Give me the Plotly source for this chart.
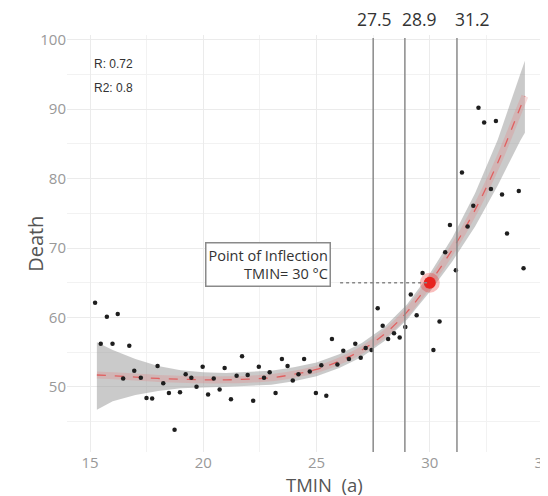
import plotly.graph_objects as go

# ---- data ----
tmin = [15.22, 15.74, 16.22, 15.47, 15.99, 16.73, 16.95, 16.46, 17.24, 17.98,
        18.23, 17.49, 17.74, 18.48, 18.97, 18.73, 19.22, 19.47, 19.70, 19.97,
        20.21, 20.46, 20.72, 20.94, 21.22, 21.47, 21.71, 21.96, 22.20, 22.45,
        22.68, 22.93, 23.19, 23.47, 23.72, 23.95, 24.20, 24.45, 24.70, 24.97,
        25.43, 25.21, 25.68, 25.92, 26.18, 26.43, 26.71, 26.95, 27.17, 27.43,
        27.70, 27.92, 28.16, 28.42, 28.67, 28.92, 29.16, 29.42, 29.68, 30.16,
        30.43, 30.68, 30.89, 31.15, 31.42, 31.67, 31.92, 32.15, 32.40, 32.70,
        32.92, 33.19, 33.41, 33.93, 34.14]
death = [62.1, 60.1, 60.5, 56.2, 56.2, 55.9, 52.3, 51.2, 51.3, 53.0,
         50.5, 48.4, 48.3, 49.1, 49.2, 43.8, 51.8, 51.3, 50.0, 52.9,
         48.9, 51.2, 49.6, 52.7, 48.2, 51.6, 54.4, 51.7, 48.0, 52.9,
         51.3, 52.1, 49.1, 54.0, 53.0, 50.9, 51.8, 54.0, 52.2, 49.1,
         48.7, 53.1, 56.9, 53.2, 55.2, 54.0, 56.2, 54.2, 55.6, 55.3,
         61.3, 58.8, 56.9, 57.7, 57.1, 58.6, 63.3, 60.3, 66.4, 55.3,
         59.4, 69.4, 73.3, 66.8, 80.9, 73.1, 76.1, 90.2, 88.1, 78.5,
         88.3, 77.7, 72.1, 78.2, 67.1]

fit_x = [15.3, 16, 17, 18, 19, 20, 21, 22, 23, 24, 25, 26, 27, 28, 29, 30,
         31, 32, 33, 34, 34.2]
fit_y = [51.7, 51.6, 51.4, 51.2, 51.1, 51.0, 51.0, 51.1, 51.3, 51.8, 52.5,
         53.7, 55.3, 57.6, 60.8, 65.0, 69.8, 75.5, 82.3, 90.3, 91.9]
fit_lo = [46.7, 47.9, 48.8, 49.4, 49.8, 49.9, 50.0, 50.1, 50.3, 50.8, 51.5,
          52.7, 54.3, 56.6, 59.7, 63.7, 68.1, 73.1, 79.0, 85.5, 86.6]
fit_hi = [56.4, 55.3, 54.0, 53.0, 52.4, 52.1, 52.0, 52.1, 52.3, 52.8, 53.5,
          54.7, 56.3, 58.6, 61.9, 66.3, 71.5, 77.9, 85.6, 95.1, 97.0]

cut_points = [27.5, 28.9, 31.2]
cut_labels = ["27.5", "28.9", "31.2"]
cut_shift = [1, 15, 16]

inflect_x = [30]
inflect_y = [65]

stats_text = ["R: 0.72", "R2: 0.8"]

fig = go.Figure()

# confidence ribbon
fig.add_trace(go.Scatter(
    x=fit_x + fit_x[::-1], y=fit_hi + fit_lo[::-1],
    fill="toself", fillcolor="rgba(150,150,150,0.5)",
    line=dict(width=0), mode="lines", hoverinfo="skip", showlegend=False))

# pink glow along the fit
fig.add_trace(go.Scatter(
    x=fit_x, y=fit_y, mode="lines",
    line=dict(color="rgba(230,120,120,0.25)", width=7, shape="spline"),
    hoverinfo="skip", showlegend=False))

# dashed fitted curve
fig.add_trace(go.Scatter(
    x=fit_x, y=fit_y, mode="lines",
    line=dict(color="#e06060", width=1.3, dash="dash", shape="spline"),
    showlegend=False))

# observed points
fig.add_trace(go.Scatter(
    x=tmin, y=death, mode="markers",
    marker=dict(color="#1e1e1e", size=4.5),
    showlegend=False))

# inflection point glow + point
fig.add_trace(go.Scatter(
    x=inflect_x, y=inflect_y, mode="markers",
    marker=dict(color="rgba(235,40,35,0.3)", size=20),
    showlegend=False, hoverinfo="skip"))
fig.add_trace(go.Scatter(
    x=inflect_x, y=inflect_y, mode="markers",
    marker=dict(color="#e8231f", size=12),
    showlegend=False))

# vertical cut lines + labels
for v, lab, sh in zip(cut_points, cut_labels, cut_shift):
    fig.add_shape(type="line", x0=v, x1=v, y0=0, y1=0.993, xref="x", yref="paper",
                  line=dict(color="#8a8a8a", width=1.5))
    fig.add_annotation(x=v, y=1, xref="x", yref="paper", yshift=16, xshift=sh,
                       text=lab, showarrow=False, yanchor="middle", borderpad=0,
                       font=dict(family="Open Sans", size=17.5, color="#333333"))

# dotted connector from box to inflection point
fig.add_shape(type="line", x0=26.04, x1=inflect_x[0], y0=inflect_y[0], y1=inflect_y[0],
              xref="x", yref="y", line=dict(color="#888888", width=1.5, dash="dot"))

# inflection label box
fig.add_annotation(x=22.86, y=67.6, xref="x", yref="y",
                   text="Point of Inflection<br>TMIN= 30 °C", showarrow=False,
                   align="right", bgcolor="white", bordercolor="#8a8a8a",
                   borderwidth=1.5, borderpad=2,
                   font=dict(family="Open Sans", size=14.5, color="#333333"))

# R / R2 stats
for i, t in enumerate(stats_text):
    fig.add_annotation(x=15.1, y=96.5 - i * 3.5, xref="x", yref="y", text=t,
                       showarrow=False, xanchor="left",
                       font=dict(family="Liberation Sans", size=12, color="#333333"))

# axis titles
fig.add_annotation(x=(324 - 67) / 481, y=(452 - 484) / 417, xref="paper", yref="paper",
                   text="TMIN  (a)", showarrow=False, yanchor="middle", borderpad=0,
                   font=dict(family="Open Sans", size=18.5, color="#555555"))
fig.add_annotation(x=-0.098, y=0.5, xref="paper", yref="paper", text="Death",
                   textangle=-90, showarrow=False,
                   font=dict(family="Open Sans", size=20, color="#555555"))

# the page adds an 8px body margin, so the figure is 8px smaller than the window
fig.update_layout(
    width=540, height=488,
    margin=dict(l=59, r=0, t=27, b=44, autoexpand=False),
    paper_bgcolor="white", plot_bgcolor="white",
    showlegend=False,
    font=dict(family="Liberation Sans"),
)
fig.update_xaxes(range=[13.98, 35.22], tick0=15, dtick=5, showgrid=True,
                 gridcolor="#ebebeb", gridwidth=1, zeroline=False, showline=False,
                 ticks="", ticklabeloverflow="allow",
                 tickfont=dict(size=15, color="#999999", family="Open Sans"),
                 minor=dict(tick0=15, dtick=2.5, showgrid=True, gridcolor="#f2f2f2", gridwidth=1))
fig.update_yaxes(range=[40.6, 100.7], tick0=50, dtick=10, showgrid=True,
                 gridcolor="#ebebeb", gridwidth=1, zeroline=False, showline=False,
                 ticks="", tickfont=dict(size=15, color="#999999", family="Open Sans"),
                 minor=dict(tick0=45, dtick=5, showgrid=True, gridcolor="#f2f2f2", gridwidth=1))

fig.write_html("out.html")
